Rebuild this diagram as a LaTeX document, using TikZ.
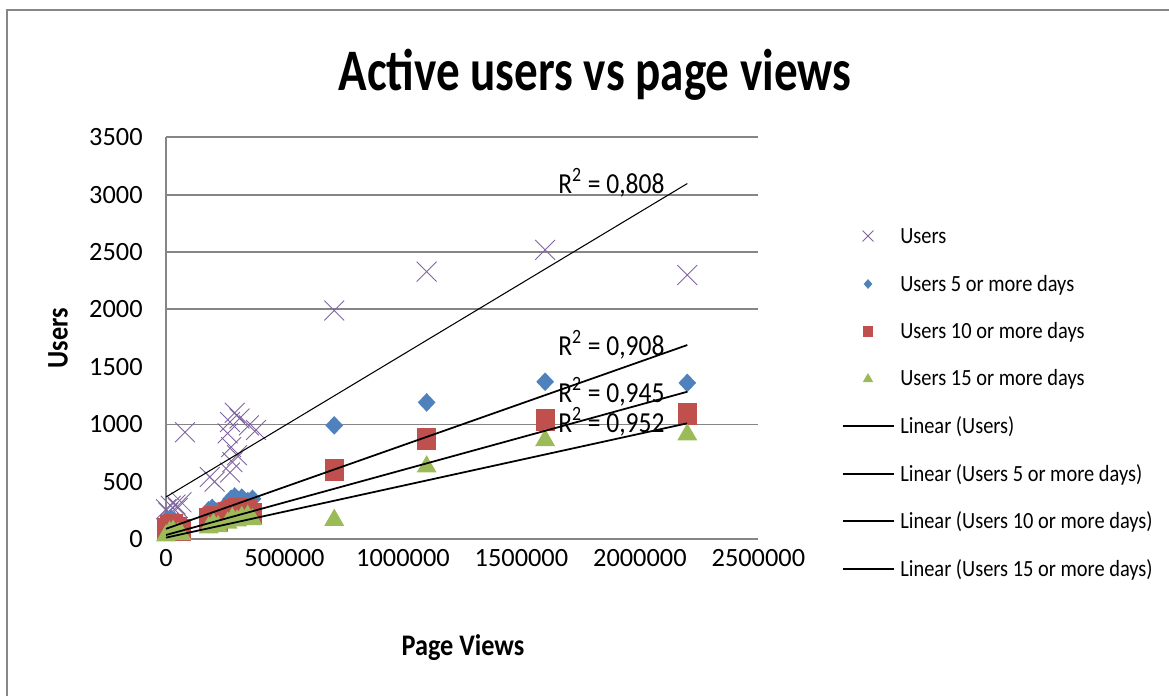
\documentclass[tikz,border=0pt]{standalone}
\usepackage{fontspec}
\setmainfont{Carlito}
\newfontfamily\titlefont[FakeStretch=0.8]{Carlito}
\newfontfamily\chartfont[FakeStretch=0.88]{Carlito}
\usetikzlibrary{shapes.geometric, shapes.misc}
\definecolor{FrameGray}{HTML}{878787}
\definecolor{GridGray}{HTML}{868686}
\definecolor{UsersPurple}{HTML}{8064A2}
\definecolor{FiveBlue}{HTML}{4F81BD}
\definecolor{TenRed}{HTML}{C0504D}
\definecolor{FifteenGreen}{HTML}{9BBB59}
\tikzset{
  framestyle/.style={draw=FrameGray, line width=1.7pt},
  gridline/.style={draw=GridGray, line width=1.1pt},
  thingrid/.style={draw=GridGray, line width=0.7pt},
  usersmark/.style={cross out, draw=UsersPurple, line width=0.5pt, minimum size=0.38cm, inner sep=0pt},
  fivemark/.style={diamond, fill=FiveBlue, minimum width=0.36cm, minimum height=0.38cm, inner sep=0pt},
  tenmark/.style={rectangle, fill=TenRed, minimum width=0.38cm, minimum height=0.44cm, inner sep=0pt},
  fifteenmark/.style={regular polygon, regular polygon sides=3, fill=FifteenGreen, minimum size=0.46cm, inner sep=0pt},
  trendline/.style={draw=black, line width=1pt},
  thintrend/.style={draw=black, line width=0.6pt},
  titletext/.style={font=\titlefont\bfseries\fontsize{33.5}{33.5}\selectfont, inner sep=0pt},
  axistitle/.style={font=\chartfont\bfseries\fontsize{17}{17}\selectfont, inner sep=0pt},
  ticklabel/.style={font=\fontsize{15}{15}\selectfont, inner sep=0pt},
  rsquared/.style={font=\chartfont\fontsize{16.5}{16.5}\selectfont, inner sep=0pt, anchor=base west},
  legendtext/.style={font=\chartfont\fontsize{13.2}{13.2}\selectfont, inner sep=0pt, anchor=base west}
}

\begin{document}
\begin{tikzpicture}[x=0.02cm, y=-0.02cm]
\useasboundingbox (0,0) rectangle (1169,696);
\draw[framestyle] (7,696) -- (7,10) -- (1169,10);
\node[titletext, anchor=base] (title) at (595,91) {Active users vs page views};
\node[axistitle, rotate=90] (ytitle) at (58,338) {Users};
\node[axistitle] (xtitle) at (463,648) {Page Views};

\begin{scope}[shift={(166,539)}, x=0.474cm, y=0.2296cm]
  \foreach \v in {20,25,30,35}
    \draw[gridline] (0,\v) -- (25,\v);
  \foreach \v in {0,10}
    \draw[thingrid] (0,\v) -- (25,\v);
  \draw[thingrid] (0,0) -- (0,35);
  \foreach \v in {0,500,...,3500}
    \node[ticklabel, anchor=east] (ytick-\v) at (-0.97,\v/100) {\v};
  \foreach \v/\lab in {0/0,5/500000,10/1000000,15/1500000,20/2000000,25/2500000}
    \node[ticklabel] (xtick-\v) at (\v,-1.65) {\lab};

  \foreach \px/\py [count=\n] in {0/2.6,0.1/2.3,0.2/2.9,0.4/3.0,0.5/2.7,0.65/3.2,0.8/9.3,
      1.85/5.4,2.05/5.0,2.6/9.2,2.7/5.8,2.7/10.2,2.75/8.0,2.8/6.7,2.9/11.0,3.0/7.3,3.1/10.5,
      3.5/9.9,3.8/9.5,7.1/19.9,11/23.3,16/25.2,22/23.0}
    \node[usersmark] (users-\n) at (\px,\py) {};
  \foreach \px/\py [count=\n] in {0.05/1.7,0.2/1.8,0.35/1.6,0.5/1.5,0.65/1.3,
      1.8/2.5,1.95/2.7,2.15/2.4,2.6/3.1,2.75/3.5,2.9/3.7,3.05/3.4,3.2/3.6,3.45/3.3,3.65/3.5,
      7.1/9.9,11/11.9,16/13.7,22/13.6}
    \node[fivemark] (five-\n) at (\px,\py) {};
  \foreach \px/\py [count=\n] in {0/0.9,0.15/1.1,0.3/1.2,0.5/1.0,0.65/0.8,
      1.8/1.7,2.0/1.9,2.2/1.6,2.6/2.3,2.8/2.5,3.0/2.6,3.2/2.4,3.45/2.5,3.65/2.2,
      7.1/6.0,11/8.7,16/10.4,22/10.9}
    \node[tenmark] (ten-\n) at (\px,\py) {};
  \foreach \px/\py [count=\n] in {0/0.3,0.15/0.6,0.3/0.7,0.5/0.5,0.65/0.4,
      1.8/1.0,2.0/1.3,2.2/1.1,2.6/1.4,2.8/1.8,3.0/1.6,3.2/1.9,3.45/2.0,3.65/1.7,
      7.1/1.65,11/6.3,16/8.6,22/9.1}
    \node[fifteenmark] (fifteen-\n) at (\px,\py) {};

  \draw[thintrend] (0,3.66) -- (22,30.97);
  \draw[trendline] (0,0.89) -- (22,16.9);
  \draw[trendline] (0,0.35) -- (22,12.83);
  \draw[trendline] (0,0.12) -- (22,10.08);
\end{scope}

\node[rsquared] (r-users) at (558,193) {R\textsuperscript{2} = 0,808};
\node[rsquared] (r-five) at (558,355) {R\textsuperscript{2} = 0,908};
\node[rsquared] (r-ten) at (558,402) {R\textsuperscript{2} = 0,945};
\node[rsquared] (r-fifteen) at (558,432) {R\textsuperscript{2} = 0,952};

\node[usersmark, minimum size=0.2cm] (leg-users-mark) at (868,236) {};
\node[legendtext] (leg-users) at (900,243) {Users};
\node[fivemark, minimum width=0.18cm, minimum height=0.2cm] (leg-five-mark) at (868,284) {};
\node[legendtext] (leg-five) at (900,291) {Users 5 or more days};
\node[tenmark, minimum width=0.2cm, minimum height=0.22cm] (leg-ten-mark) at (868,331) {};
\node[legendtext] (leg-ten) at (900,338) {Users 10 or more days};
\node[fifteenmark, minimum size=0.24cm] (leg-fifteen-mark) at (868,379) {};
\node[legendtext] (leg-fifteen) at (900,385) {Users 15 or more days};
\draw[thintrend] (843,426) -- (894,426);
\node[legendtext] (leg-lin-users) at (900,433) {Linear (Users)};
\draw[trendline] (843,474) -- (894,474);
\node[legendtext] (leg-lin-five) at (900,481) {Linear (Users 5 or more days)};
\draw[trendline] (843,521) -- (894,521);
\node[legendtext] (leg-lin-ten) at (900,528) {Linear (Users 10 or more days)};
\draw[trendline] (843,569) -- (894,569);
\node[legendtext] (leg-lin-fifteen) at (900,576) {Linear (Users 15 or more days)};
\end{tikzpicture}
\end{document}
